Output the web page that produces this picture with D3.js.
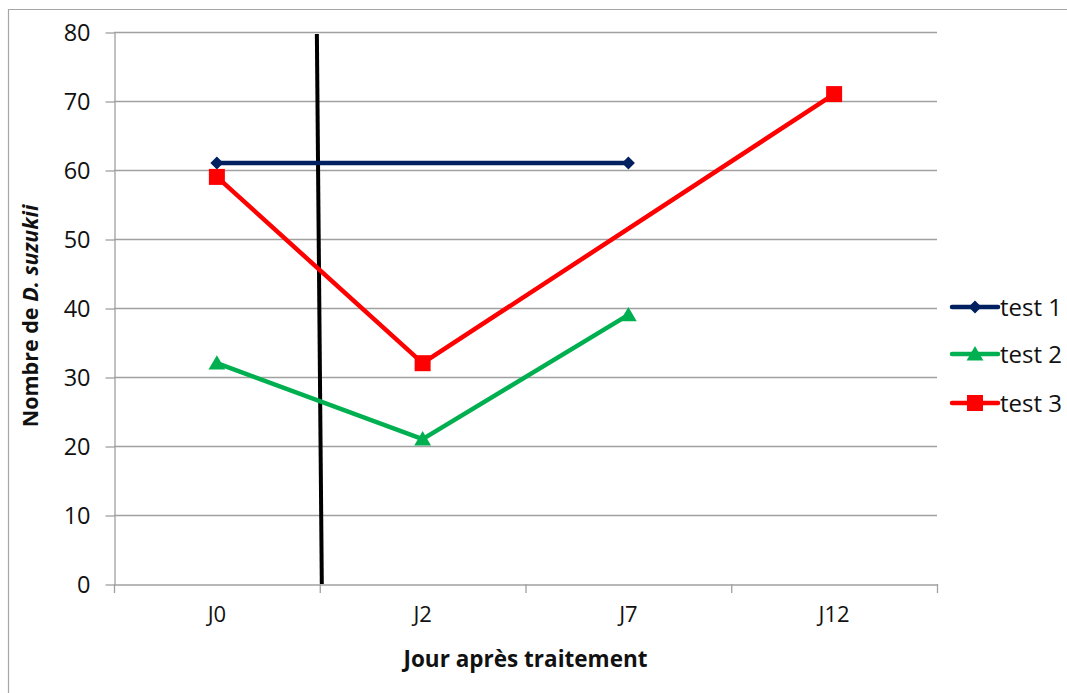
<!DOCTYPE html>
<html><head><meta charset="utf-8">
<script src="https://cdn.jsdelivr.net/npm/d3@7"></script>
<style>body{margin:0;background:#fff}svg{display:block}</style>
</head><body>
<script>
const categories = ["J0","J2","J7","J12"];
const yTicks = [0,10,20,30,40,50,60,70,80];
const test1 = [61, null, 61, null];
const test2 = [32, 21, 39, null];
const test3 = [59, 32, null, 71];
const seriesNames = ["test 1","test 2","test 3"];
const seriesColors = ["#002060","#00B050","#FF0000"];
const seriesMarkers = ["diamond","triangle","square"];
// hand-drawn annotation line, in category-index / value units
const annotX = [0.486, 0.51];
const annotY = [79.7, 0];

(function () {
const W = 1067, H = 693;
const svg = d3.select("body").append("svg").attr("width", W).attr("height", H);
const font = "'Open Sans', sans-serif";

// outer border
svg.append("path").attr("d", `M8.5,${H} V9.5 H${W}`).attr("fill","none").attr("stroke","#a6a6a6").attr("stroke-width",1.2);

const mLeft = 114, mRight = 937, mTop = 32, mBottom = 584;
const x = d3.scaleBand().domain(categories).range([mLeft, mRight]);
const xi = d3.scaleLinear().domain([-0.5, categories.length - 0.5]).range([mLeft, mRight]);
const y = d3.scaleLinear().domain([0, 80]).range([mBottom, mTop]);

// gridlines
svg.append("g").selectAll("line").data(yTicks.filter(d => d > 0)).join("line")
  .attr("x1", mLeft).attr("x2", mRight).attr("y1", d => y(d) + 0.5).attr("y2", d => y(d) + 0.5)
  .attr("stroke", "#a0a0a0").attr("stroke-width", 1.3);

// y axis
const yAxis = svg.append("g").attr("transform", `translate(${mLeft + 0.5},0.5)`)
  .call(d3.axisLeft(y).tickValues(yTicks).tickSize(9).tickPadding(15).tickSizeOuter(0));
yAxis.select(".domain").attr("stroke", "#a0a0a0").attr("stroke-width", 1.3);
yAxis.selectAll(".tick line").attr("stroke", "#a0a0a0").attr("stroke-width", 1.3);
yAxis.selectAll("text").attr("font-family", font).attr("font-size", 23.5).attr("fill", "#111");

// x axis
const xAxis = svg.append("g").attr("transform", `translate(0,${mBottom + 0.5})`)
  .call(d3.axisBottom(x).tickSize(0).tickPadding(22));
xAxis.select(".domain").attr("stroke", "#a0a0a0").attr("stroke-width", 1.3);
xAxis.selectAll("text").attr("font-family", font).attr("font-size", 22).attr("fill", "#111");
svg.append("g").selectAll("line").data(d3.range(categories.length + 1)).join("line")
  .attr("x1", i => xi(i - 0.5) + 0.5).attr("x2", i => xi(i - 0.5) + 0.5)
  .attr("y1", mBottom).attr("y2", mBottom + 9)
  .attr("stroke", "#a0a0a0").attr("stroke-width", 1.3);

// axis titles
svg.append("text").attr("x", (mLeft + mRight) / 2).attr("y", 667).attr("text-anchor", "middle")
  .attr("font-family", font).attr("font-weight", "bold").attr("font-size", 22.5).attr("fill", "#111")
  .text("Jour après traitement");
const yt = svg.append("text").attr("transform", `translate(38,${(mTop + mBottom) / 2 + 8}) rotate(-90)`)
  .attr("text-anchor", "middle").attr("font-family", font).attr("font-weight", "bold")
  .attr("font-size", 21.5).attr("fill", "#111");
yt.append("tspan").text("Nombre de ");
yt.append("tspan").attr("font-style", "italic").text("D. suzukii");

// annotation line
svg.append("line").attr("x1", xi(annotX[0])).attr("y1", y(annotY[0]))
  .attr("x2", xi(annotX[1])).attr("y2", y(annotY[1]))
  .attr("stroke", "#000").attr("stroke-width", 4);

// series
const allSeries = [test1, test2, test3];
function markerPath(type, s) {
  if (type === "diamond") return `M0,${-s}L${s},0L0,${s}L${-s},0Z`;
  if (type === "square") return `M${-s},${-s}H${s}V${s}H${-s}Z`;
  return `M0,${-s}L${s * 1.05},${s * 0.8}H${-s * 1.05}Z`;
}
const markerSize = {diamond: 6.5, square: 8, triangle: 8};
allSeries.forEach((vals, si) => {
  const pts = vals.map((v, i) => ({v, i})).filter(d => d.v !== null);
  const line = d3.line().x(d => x(categories[d.i]) + x.bandwidth() / 2).y(d => y(d.v));
  svg.append("path").attr("d", line(pts)).attr("fill", "none")
    .attr("stroke", seriesColors[si]).attr("stroke-width", 4.5).attr("stroke-linejoin", "round");
  svg.append("g").selectAll("path").data(pts).join("path")
    .attr("transform", d => `translate(${x(categories[d.i]) + x.bandwidth() / 2},${y(d.v)})`)
    .attr("d", markerPath(seriesMarkers[si], markerSize[seriesMarkers[si]]))
    .attr("fill", seriesColors[si]);
});

// legend
const legendY = [307, 354, 403];
seriesNames.forEach((name, si) => {
  const g = svg.append("g").attr("transform", `translate(952,${legendY[si]})`);
  g.append("line").attr("x1", 0).attr("x2", 46).attr("stroke", seriesColors[si])
    .attr("stroke-width", 4.5).attr("stroke-linecap", "round");
  g.append("path").attr("transform", "translate(23,0)")
    .attr("d", markerPath(seriesMarkers[si], markerSize[seriesMarkers[si]]))
    .attr("fill", seriesColors[si]);
  g.append("text").attr("x", 48).attr("y", 9).attr("font-family", font).attr("font-size", 24)
    .attr("fill", "#111").text(name);
});
})();
</script>
</body></html>
